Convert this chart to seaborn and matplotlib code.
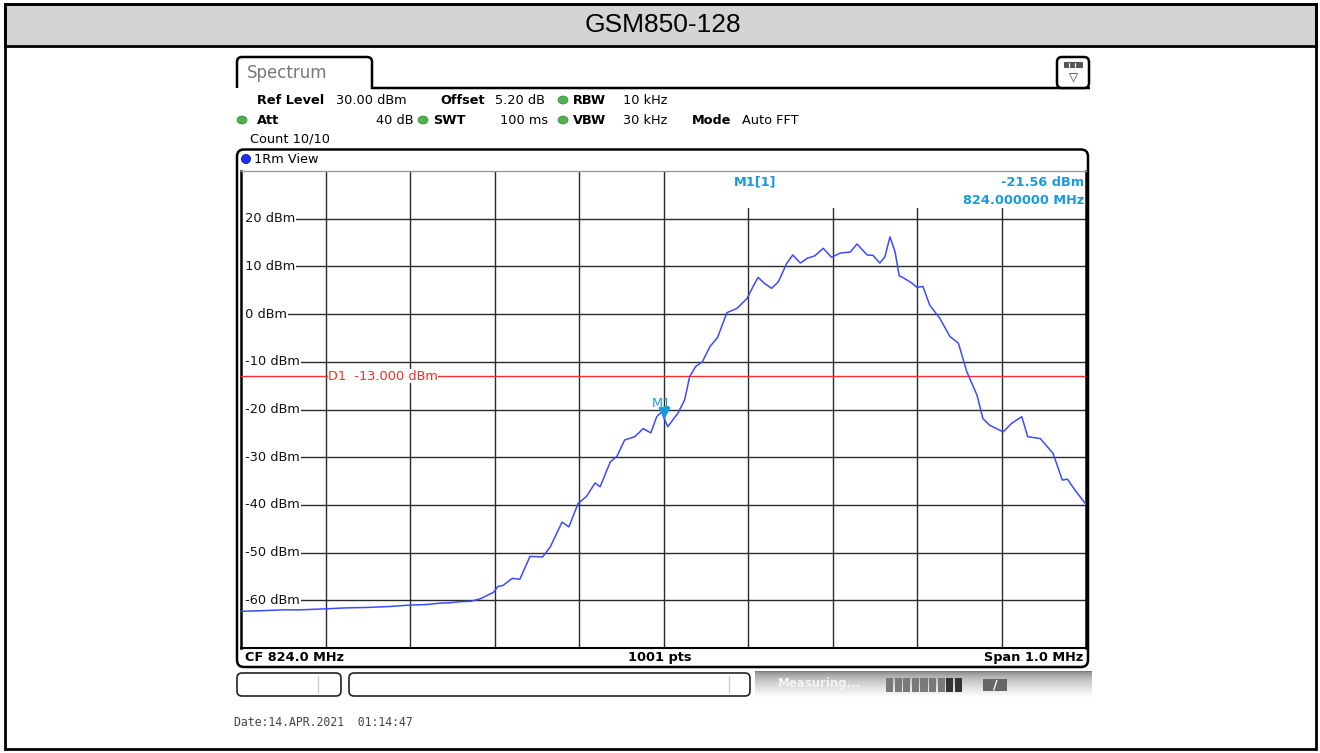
import numpy as np
import pandas as pd
import matplotlib
matplotlib.use("Agg")
import matplotlib.pyplot as plt
import matplotlib.transforms as mtransforms
from matplotlib.patches import FancyBboxPatch, Rectangle, Ellipse
from matplotlib.path import Path
from matplotlib.patches import PathPatch
import seaborn as sns

# ---------------- data ----------------
freq_mhz = [823.500, 823.522, 823.550, 823.570, 823.599, 823.623, 823.649, 823.676,
            823.700, 823.718, 823.736, 823.748, 823.759, 823.772, 823.783,
            823.799, 823.804, 823.810, 823.821, 823.830, 823.842, 823.857, 823.866,
            823.880, 823.888, 823.899, 823.909, 823.919, 823.925, 823.937, 823.945,
            823.954, 823.966, 823.976, 823.985, 823.992, 823.998, 824.000, 824.005,
            824.017, 824.025, 824.031, 824.038, 824.046, 824.055, 824.064, 824.075,
            824.087, 824.099, 824.106, 824.112, 824.119, 824.128, 824.136, 824.146,
            824.153, 824.162, 824.170, 824.179, 824.189, 824.199, 824.209, 824.221,
            824.229, 824.241, 824.248, 824.256, 824.262, 824.268, 824.274, 824.279,
            824.283, 824.294, 824.300, 824.307, 824.315, 824.327, 824.339, 824.349,
            824.359, 824.371, 824.378, 824.386, 824.402, 824.412, 824.424, 824.431,
            824.446, 824.461, 824.472, 824.478, 824.487, 824.500]
level_dbm = [-62.3, -62.2, -62.0, -62.0, -61.8, -61.6, -61.5, -61.3,
             -61.0, -60.9, -60.6, -60.5, -60.3, -60.2, -59.7,
             -58.3, -57.1, -56.9, -55.4, -55.6, -50.8, -50.9, -48.8,
             -43.6, -44.6, -39.7, -38.2, -35.4, -36.2, -31.0, -29.8,
             -26.4, -25.7, -24.0, -24.9, -21.5, -20.5, -21.56, -23.6,
             -20.8, -18.0, -13.1, -11.0, -10.0, -6.8, -4.9, 0.3,
             1.2, 3.3, 5.8, 7.7, 6.5, 5.4, 6.8, 10.7,
             12.4, 10.7, 11.7, 12.2, 13.8, 11.9, 12.8, 13.0,
             14.7, 12.4, 12.3, 10.7, 12.0, 16.2, 13.1, 8.0,
             7.7, 6.5, 5.6, 5.8, 1.9, -0.9, -4.7, -6.1,
             -12.1, -17.0, -21.9, -23.3, -24.7, -22.9, -21.5, -25.7,
             -26.1, -29.2, -34.8, -34.6, -36.9, -39.9]

y_ticks = [20, 10, 0, -10, -20, -30, -40, -50, -60]
y_tick_labels = ["20 dBm", "10 dBm", "0 dBm", "-10 dBm", "-20 dBm",
                 "-30 dBm", "-40 dBm", "-50 dBm", "-60 dBm"]
x_grid = [823.6, 823.7, 823.8, 823.9, 824.0, 824.1, 824.2, 824.3, 824.4]
x_range = [823.5, 824.5]
y_range = [-70, 30]
d1_level = -13.0
d1_label = "D1  -13.000 dBm"
m1_freq = 824.0
m1_level = -21.56

title = "GSM850-128"
settings_row1 = [("Ref Level", True), ("30.00 dBm", False), ("Offset", True),
                 ("5.20 dB", False), ("RBW", True), ("10 kHz", False)]
settings_row2 = [("Att", True), ("40 dB", False), ("SWT", True), ("100 ms", False),
                 ("VBW", True), ("30 kHz", False), ("Mode", True), ("Auto FFT", False)]

df = pd.DataFrame({"freq": freq_mhz, "level": level_dbm})

# ---------------- style ----------------
sns.set_theme(style="white")
plt.rcParams["font.family"] = ["DejaVu Sans"]

W, H = 1320, 753
fig = plt.figure(figsize=(W / 100, H / 100), dpi=100)
fig.patch.set_facecolor("white")

# overlay axes in pixel coordinates
ax0 = fig.add_axes([0, 0, 1, 1], zorder=0)
ax0.set_xlim(0, W)
ax0.set_ylim(H, 0)
ax0.axis("off")

# outer frame and title band
ax0.add_patch(Rectangle((5, 4), 1311, 42, fc="#d4d4d4", ec="black", lw=2))
ax0.add_patch(Rectangle((5, 4), 1311, 745, fc="none", ec="black", lw=2))
ax0.text(663, 25, title, ha="center", va="center", fontsize=19,
         family="Liberation Sans", color="black")

# Spectrum tab
tab = Path([(237, 88), (237, 62), (237, 57), (242, 57), (367, 57), (372, 57),
            (372, 62), (372, 88), (1090, 88)],
           [Path.MOVETO, Path.LINETO, Path.CURVE3, Path.CURVE3, Path.LINETO,
            Path.CURVE3, Path.CURVE3, Path.LINETO, Path.LINETO])
ax0.add_patch(PathPatch(tab, fc="none", ec="black", lw=1.8))
ax0.text(247, 73, "Spectrum", ha="left", va="center", fontsize=12, color="#777777")

# top-right icon
ax0.add_patch(FancyBboxPatch((1057, 57), 32, 31, boxstyle="round,pad=0,rounding_size=5",
                             fc="white", ec="black", lw=1.8))
ax0.add_patch(Rectangle((1064, 62), 18, 5, fc="#555555", ec="#333333", lw=0.5))
for xx in (1069, 1075):
    ax0.plot([xx, xx], [62.5, 66.5], color="white", lw=0.8)
ax0.text(1073, 78, "\u25BD", ha="center", va="center", fontsize=8.5, color="#333333")

# settings text
fs = 9.3
row1_x = [257, 336, 440, 495, 573, 623]
for (t, b), xx in zip(settings_row1, row1_x):
    ax0.text(xx, 100, t, ha="left", va="center", fontsize=fs,
             fontweight="bold" if b else "normal", color="black")
row2_x = [257, 414, 433, 548, 573, 623, 692, 742]
row2_ha = ["left", "right", "left", "right", "left", "left", "left", "left"]
for (t, b), xx, ha in zip(settings_row2, row2_x, row2_ha):
    ax0.text(xx, 120, t, ha=ha, va="center", fontsize=fs,
             fontweight="bold" if b else "normal", color="black")
ax0.text(250, 139, "Count 10/10", ha="left", va="center", fontsize=fs, color="black")
for (cx, cy) in [(563, 100), (242, 120), (423, 120), (563, 120)]:
    ax0.add_patch(Ellipse((cx, cy), 10, 8, fc="#4fb04f", ec="#3a8a3a", lw=0.5))

# view box
ax0.add_patch(FancyBboxPatch((237, 149.5), 851, 517.5,
                             boxstyle="round,pad=0,rounding_size=7",
                             fc="white", ec="black", lw=1.8))
ax0.add_patch(Ellipse((246, 159), 9, 9, fc="#2030ff", ec="#101080", lw=0.6))
ax0.text(254, 159, "1Rm View", ha="left", va="center", fontsize=fs, color="black")
ax0.text(245, 657.5, "CF 824.0 MHz", ha="left", va="center", fontsize=fs,
         fontweight="bold", color="black")
ax0.text(660, 657.5, "1001 pts", ha="center", va="center", fontsize=fs,
         fontweight="bold", color="black")
ax0.text(1083, 657.5, "Span 1.0 MHz", ha="right", va="center", fontsize=fs,
         fontweight="bold", color="black")

# status bar
ax0.add_patch(FancyBboxPatch((237, 673), 104, 23, boxstyle="round,pad=0,rounding_size=5",
                             fc="white", ec="#222222", lw=1.2))
ax0.plot([318, 318], [676, 693], color="#cccccc", lw=1)
ax0.add_patch(FancyBboxPatch((349, 673), 401, 23, boxstyle="round,pad=0,rounding_size=5",
                             fc="white", ec="#222222", lw=1.2))
ax0.plot([729, 729], [676, 693], color="#cccccc", lw=1)
grad = np.linspace(0.0, 1.0, 50) ** 0.5
grad = 0.45 + 0.55 * grad
ax0.imshow(grad[:, None], extent=(755, 1092, 698, 671), cmap="gray", vmin=0, vmax=1,
           aspect="auto", zorder=1)
ax0.text(778, 684, "Measuring...", ha="left", va="center", fontsize=8.5,
         color="#f4f4f4", fontweight="bold", zorder=2)
for i in range(9):
    ax0.add_patch(Rectangle((886 + i * 8.6, 678), 7.2, 14,
                            fc="#333333" if i >= 7 else "#7a7a7a", ec="none", zorder=2))
ax0.add_patch(Rectangle((983, 679), 24, 12, fc="#666666", ec="none", zorder=2))
ax0.text(995, 685, "/", ha="center", va="center", fontsize=9, color="white",
         fontweight="bold", zorder=3)

# date
ax0.text(234, 722, "Date:14.APR.2021  01:14:47", ha="left", va="center", fontsize=8.3,
         family="DejaVu Sans Mono", color="#444444")

# ---------------- main trace axes ----------------
left, top, right, bottom = 241, 171, 1086, 648
ax = fig.add_axes([left / W, (H - bottom) / H, (right - left) / W, (bottom - top) / H],
                  zorder=2)
ax.set_facecolor("white")
sns.lineplot(data=df, x="freq", y="level", ax=ax, color="#3a4cff", linewidth=1.1,
             zorder=4)
ax.set_xlim(*x_range)
ax.set_ylim(*y_range)
ax.set_xticks(x_grid)
ax.set_yticks(y_ticks)
ax.set_axisbelow(True)
ax.grid(True, color="#2a2a2a", lw=1.0)
ax.tick_params(length=0, labelbottom=False, labelleft=False)
ax.set_xlabel("")
ax.set_ylabel("")
for s in ("left", "right"):
    ax.spines[s].set_color("black")
    ax.spines[s].set_linewidth(1.8)
ax.spines["bottom"].set_color("black")
ax.spines["bottom"].set_linewidth(1.5)
ax.spines["top"].set_color("#9a9a9a")
ax.spines["top"].set_linewidth(1.0)

blend = mtransforms.blended_transform_factory(ax.transAxes, ax.transData)
for v, lab in zip(y_ticks, y_tick_labels):
    ax.text(0.0, v, " " + lab, transform=blend, ha="left", va="center", fontsize=fs,
            color="#111111", zorder=1.5,
            bbox=dict(fc="white", ec="none", pad=0.6))

# white box behind marker readout
ax.add_patch(Rectangle((0.508, 0.922), 0.49, 0.078, transform=ax.transAxes,
                       fc="white", ec="none", zorder=1.2))

# display line D1
ax.axhline(d1_level, color="#ff2a2a", lw=1.0, zorder=3)
ax.text(823.603, d1_level, d1_label, ha="left", va="center", fontsize=fs,
        color="#ff2a2a", zorder=3.5, bbox=dict(fc="white", ec="none", pad=0.4))

# marker M1
tip = Path([(0, 0), (-0.55, 1.0), (0.55, 1.0), (0, 0)],
           [Path.MOVETO, Path.LINETO, Path.LINETO, Path.CLOSEPOLY])
ax.plot([m1_freq], [m1_level], marker=tip, ms=14, color="#1a9ad8", zorder=5,
        linestyle="none")
ax.annotate("M1", (m1_freq, m1_level), xytext=(-1.5, 10), textcoords="offset points",
            ha="center", va="center", fontsize=fs, color="#1a9ad8", zorder=5)

# marker readout
fig.text(755 / W, 1 - 182 / H, "M1[1]", ha="center", va="center", fontsize=fs,
         fontweight="bold", color="#1a9ad8", zorder=6)
fig.text(1084 / W, 1 - 182 / H, f"{m1_level:.2f} dBm", ha="right", va="center",
         fontsize=fs, fontweight="bold", color="#1a9ad8", zorder=6)
fig.text(1084 / W, 1 - 200 / H, f"{m1_freq:.6f} MHz", ha="right", va="center",
         fontsize=fs, fontweight="bold", color="#1a9ad8", zorder=6)

fig.savefig("out.png", dpi=100, facecolor="white")
